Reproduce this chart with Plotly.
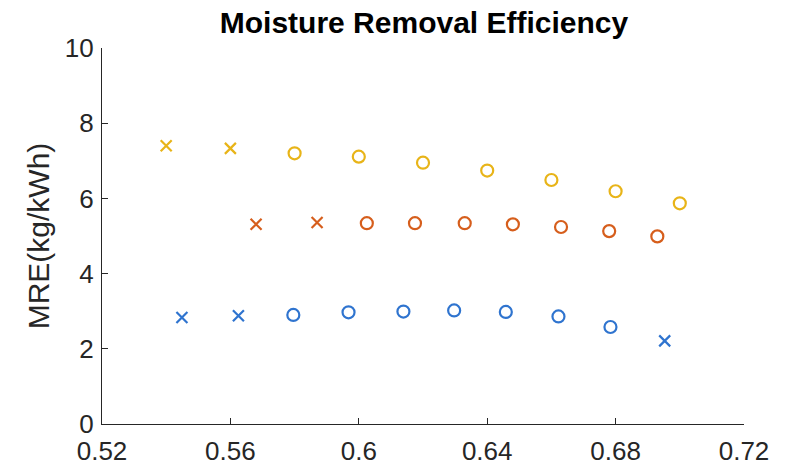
import plotly.graph_objects as go

# Series data (x = ratio, y = MRE kg/kWh); marker: 'x' or 'o'
yellow_x = [0.540, 0.560, 0.580, 0.600, 0.620, 0.640, 0.660, 0.680, 0.700]
yellow_y = [7.40, 7.33, 7.20, 7.11, 6.95, 6.74, 6.49, 6.19, 5.87]
yellow_m = ['x', 'x', 'o', 'o', 'o', 'o', 'o', 'o', 'o']

orange_x = [0.568, 0.587, 0.6025, 0.6175, 0.633, 0.648, 0.663, 0.678, 0.693]
orange_y = [5.31, 5.36, 5.34, 5.34, 5.34, 5.31, 5.24, 5.13, 4.99]
orange_m = ['x', 'x', 'o', 'o', 'o', 'o', 'o', 'o', 'o']

blue_x = [0.5449, 0.5625, 0.5796, 0.5968, 0.6139, 0.6297, 0.6458, 0.6622, 0.6784, 0.6953]
blue_y = [2.83, 2.88, 2.90, 2.97, 2.99, 3.02, 2.98, 2.86, 2.58, 2.21]
blue_m = ['x', 'x', 'o', 'o', 'o', 'o', 'o', 'o', 'o', 'x']

x_ticks = [0.52, 0.56, 0.60, 0.64, 0.68, 0.72]
x_tick_labels = ['0.52', '0.56', '0.6', '0.64', '0.68', '0.72']
y_ticks = [0, 2, 4, 6, 8, 10]

series = [
    (blue_x, blue_y, blue_m, '#2F74CF'),
    (orange_x, orange_y, orange_m, '#D65E1C'),
    (yellow_x, yellow_y, yellow_m, '#E8B418'),
]

fig = go.Figure()
for xs, ys, ms, col in series:
    xo = [x for x, m in zip(xs, ms) if m == 'o']
    yo = [y for y, m in zip(ys, ms) if m == 'o']
    xx = [x for x, m in zip(xs, ms) if m == 'x']
    yx = [y for y, m in zip(ys, ms) if m == 'x']
    fig.add_trace(go.Scatter(x=xo, y=yo, mode='markers',
                             marker=dict(symbol='circle-open', size=12, color=col,
                                         line=dict(width=2.2, color=col))))
    fig.add_trace(go.Scatter(x=xx, y=yx, mode='markers',
                             marker=dict(symbol='x-thin-open', size=11, color=col,
                                         line=dict(width=2.2, color=col))))

axis_col = '#262626'
fig.update_layout(
    width=797, height=466,
    margin=dict(l=102, r=53, t=48, b=42),
    plot_bgcolor='white', paper_bgcolor='white',
    showlegend=False,
    font=dict(family='Liberation Sans, Arial, sans-serif', color=axis_col),
    title=dict(text='<b>Moisture Removal Efficiency</b>', x=0.532, xanchor='center',
               y=0.952, yanchor='middle', yref='container',
               font=dict(size=30, color='black')),
    xaxis=dict(range=[0.52, 0.72], tickvals=x_ticks, ticktext=x_tick_labels,
               ticks='inside', ticklen=6, tickwidth=1.2, tickcolor=axis_col,
               showline=True, linecolor=axis_col, linewidth=1.3,
               showgrid=False, zeroline=False, mirror=False,
               ticklabelstandoff=4,
               tickfont=dict(size=26, color=axis_col), automargin=False),
    yaxis=dict(range=[0, 10], tickvals=y_ticks,
               ticks='inside', ticklen=6, tickwidth=1.2, tickcolor=axis_col,
               showline=True, linecolor=axis_col, linewidth=1.3,
               showgrid=False, zeroline=False, mirror=False,
               ticklabelstandoff=2,
               tickfont=dict(size=26, color=axis_col), automargin=False,
               title=dict(text='MRE(kg/kWh)', font=dict(size=30, color=axis_col), standoff=6)),
)

fig.write_html('out.html')
